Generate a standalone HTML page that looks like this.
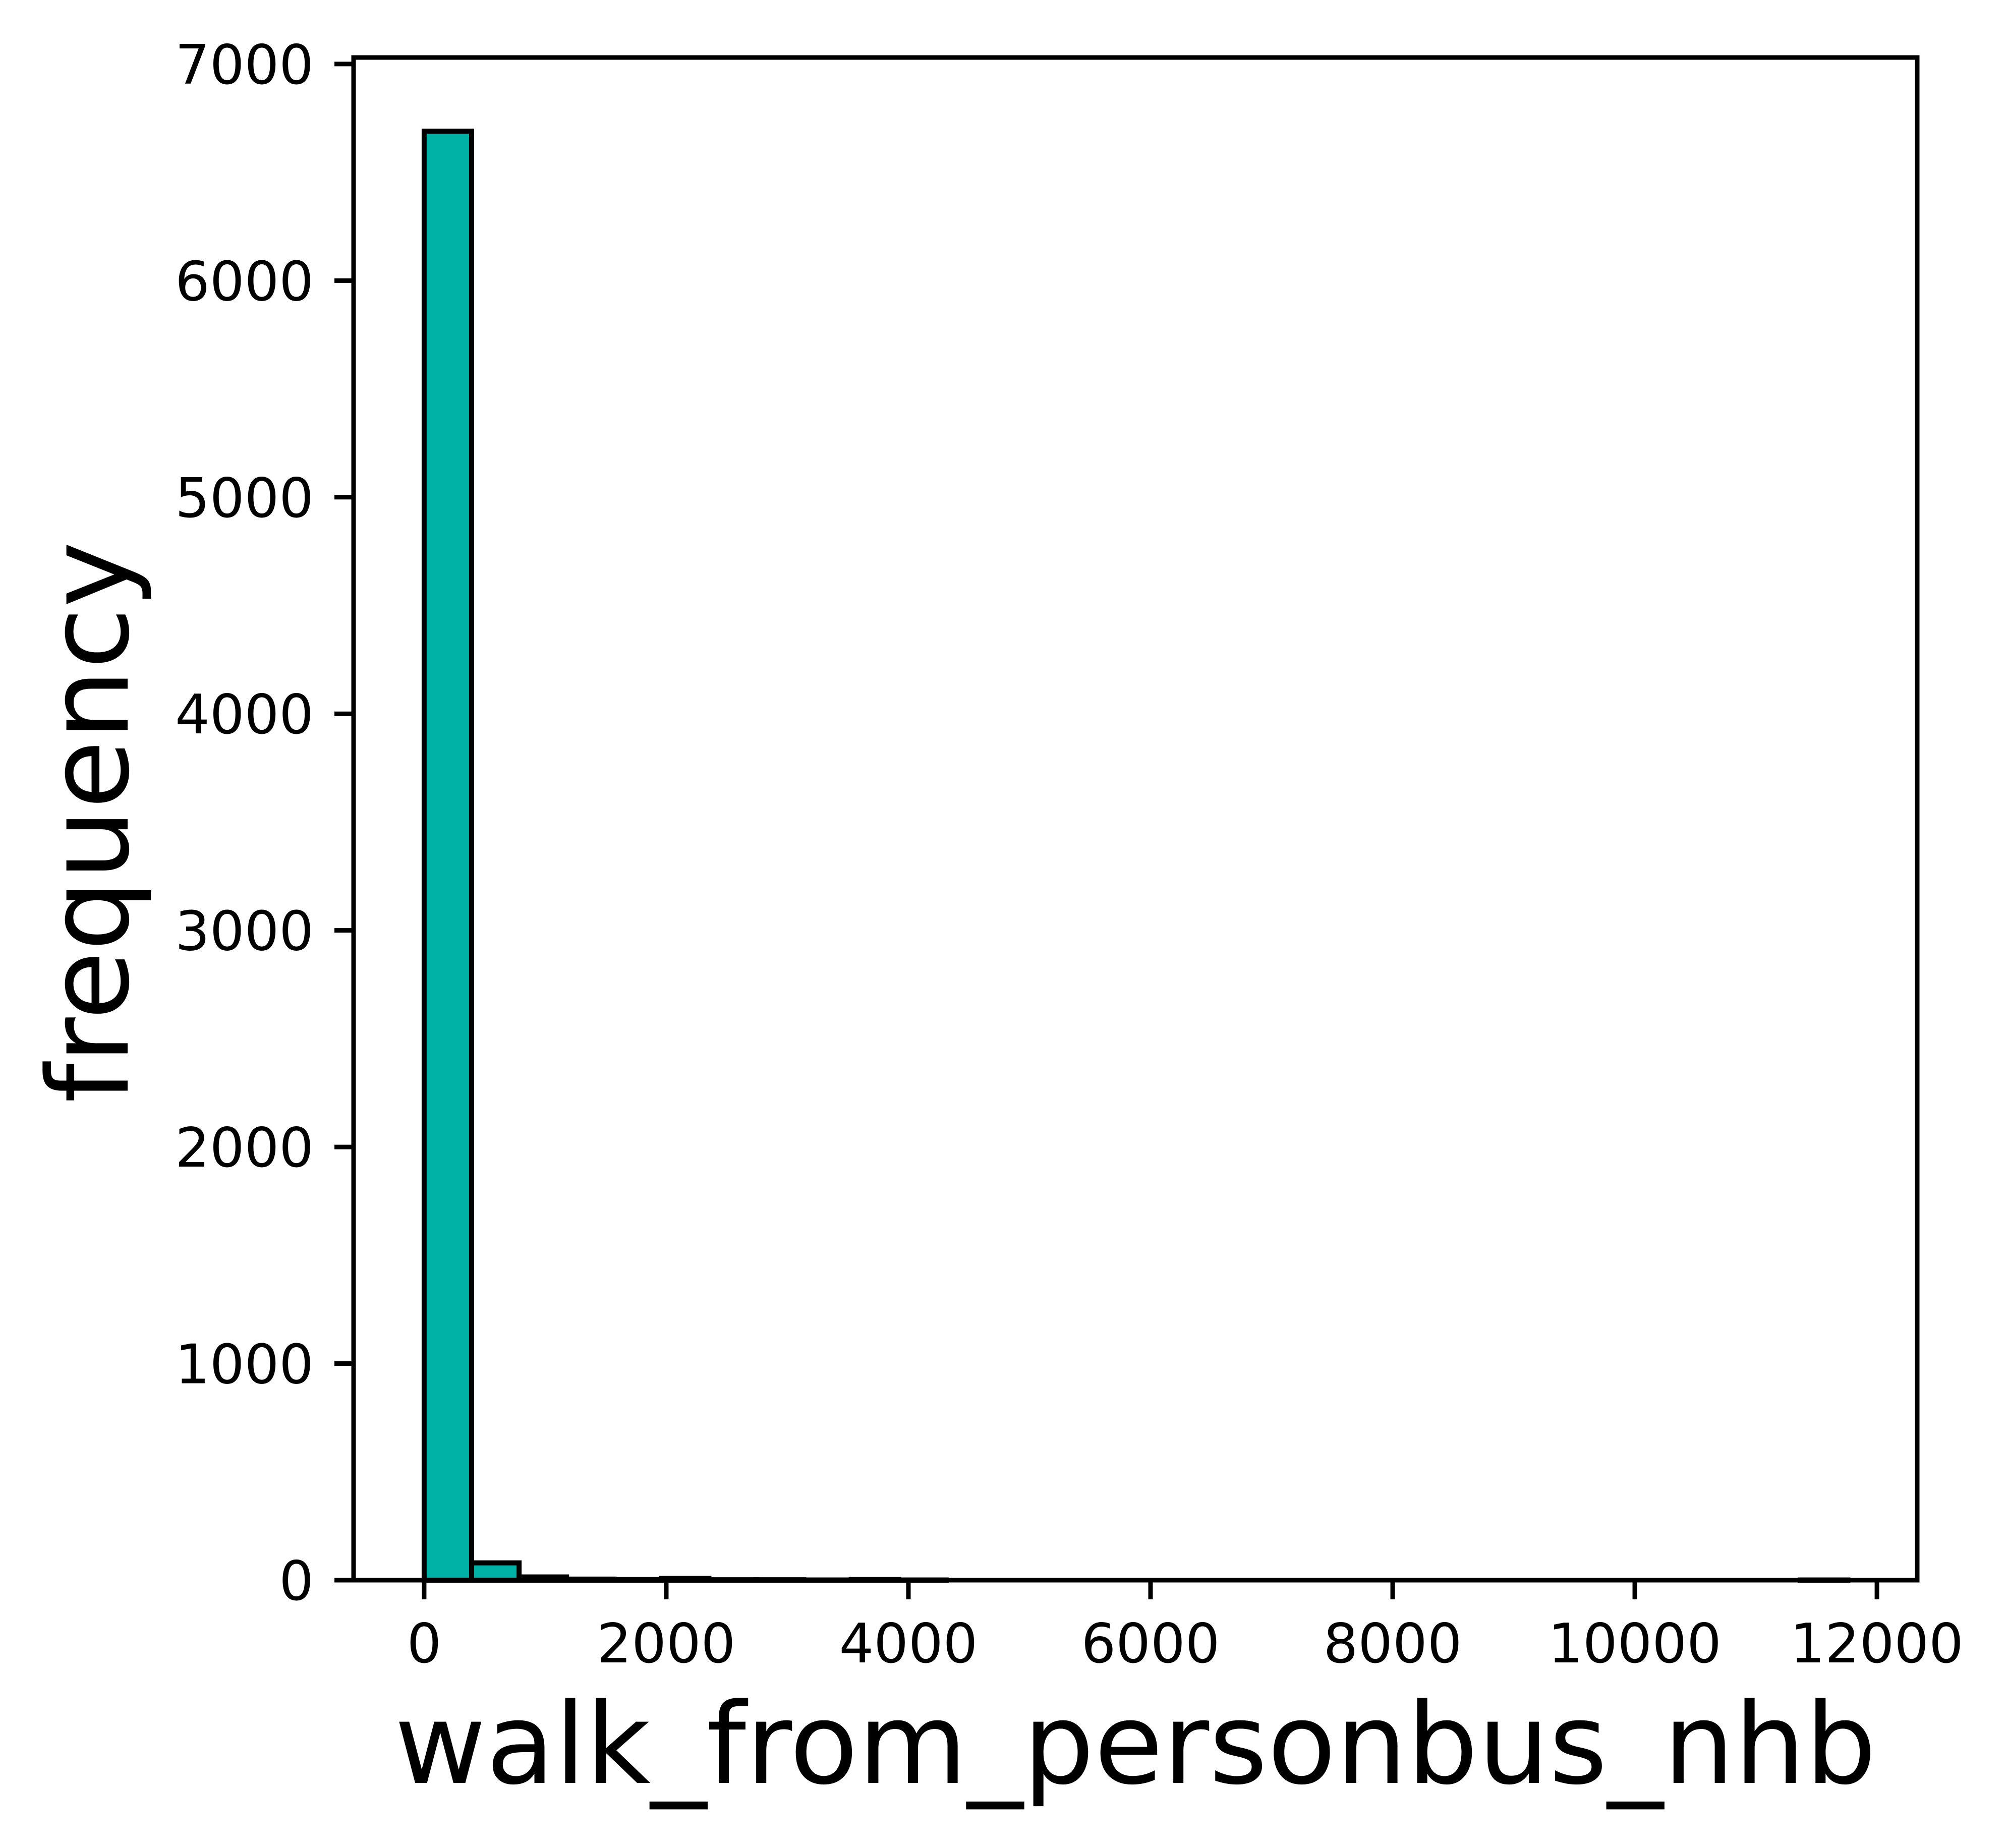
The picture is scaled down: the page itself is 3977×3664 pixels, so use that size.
<!DOCTYPE html>
<html><head><meta charset="utf-8"><style>
html,body{margin:0;padding:0;background:#fff;}
svg{display:block;font-family:"DejaVu Sans","Liberation Sans",sans-serif;}
</style></head><body>
<svg id="chart" width="3977" height="3664" viewBox="0 0 3977 3664" xmlns="http://www.w3.org/2000/svg">
<rect x="0" y="0" width="3977" height="3664" fill="#fff"/>
<g id="bars"></g>
<g id="axes"></g>
<text x="2251" y="3535" font-size="222" text-anchor="middle">walk_from_personbus_nhb</text>
<text transform="translate(253,1630) rotate(-90)" font-size="222" text-anchor="middle">frequency</text>
</svg>
<script>
const binStart = 0;
const binWidth = 392;
const counts = [6690, 80, 15, 5, 3, 8, 2, 2, 1, 3, 1, 0, 0, 0, 0, 0, 0, 0, 0, 0, 0, 0, 0, 0, 0, 0, 0, 0, 0, 1];
const xTicks = [0, 2000, 4000, 6000, 8000, 10000, 12000];
const yTicks = [0, 1000, 2000, 3000, 4000, 5000, 6000, 7000];
const xTickLabels = ["0", "2000", "4000", "6000", "8000", "10000", "12000"];
const yTickLabels = ["0", "1000", "2000", "3000", "4000", "5000", "6000", "7000"];

const L = 701, R = 3801, T = 114, B = 3133;
const xMin = -583, xMax = 12333, yMin = 0, yMax = 7030;
const sx = v => L + (v - xMin) / (xMax - xMin) * (R - L);
const sy = v => B - (v - yMin) / (yMax - yMin) * (B - T);
const NS = "http://www.w3.org/2000/svg";
const bars = document.getElementById('bars');
counts.forEach((c, i) => {
  const x0 = sx(binStart + i * binWidth), x1 = sx(binStart + (i + 1) * binWidth);
  const r = document.createElementNS(NS, 'rect');
  r.setAttribute('x', x0); r.setAttribute('y', sy(c));
  r.setAttribute('width', x1 - x0); r.setAttribute('height', B - sy(c));
  r.setAttribute('fill', '#00b2a5'); r.setAttribute('stroke', '#000'); r.setAttribute('stroke-width', '10');
  
  
  bars.appendChild(r);
});
const axes = document.getElementById('axes');
const frame = document.createElementNS(NS, 'rect');
frame.setAttribute('x', L); frame.setAttribute('y', T);
frame.setAttribute('width', R - L); frame.setAttribute('height', B - T);
frame.setAttribute('fill', 'none'); frame.setAttribute('stroke', '#000'); frame.setAttribute('stroke-width', '9');


axes.appendChild(frame);
xTicks.forEach((v, i) => {
  const l = document.createElementNS(NS, 'line');
  l.setAttribute('x1', sx(v)); l.setAttribute('x2', sx(v));
  l.setAttribute('y1', B); l.setAttribute('y2', B + 38);
  l.setAttribute('stroke', '#000'); l.setAttribute('stroke-width', '9');
  
  
  axes.appendChild(l);
  const t = document.createElementNS(NS, 'text');
  t.setAttribute('x', sx(v)); t.setAttribute('y', 3296);
  t.setAttribute('font-size', '108'); t.setAttribute('text-anchor', 'middle');
  t.textContent = xTickLabels[i];
  
  
  axes.appendChild(t);
});
yTicks.forEach((v, i) => {
  const l = document.createElementNS(NS, 'line');
  l.setAttribute('x1', L - 38); l.setAttribute('x2', L);
  l.setAttribute('y1', sy(v)); l.setAttribute('y2', sy(v));
  l.setAttribute('stroke', '#000'); l.setAttribute('stroke-width', '9');
  
  
  axes.appendChild(l);
  const t = document.createElementNS(NS, 'text');
  t.setAttribute('x', 622); t.setAttribute('y', sy(v) + 39);
  t.setAttribute('font-size', '108'); t.setAttribute('text-anchor', 'end');
  t.textContent = yTickLabels[i];
  
  
  axes.appendChild(t);
});
</script>
</body></html>
